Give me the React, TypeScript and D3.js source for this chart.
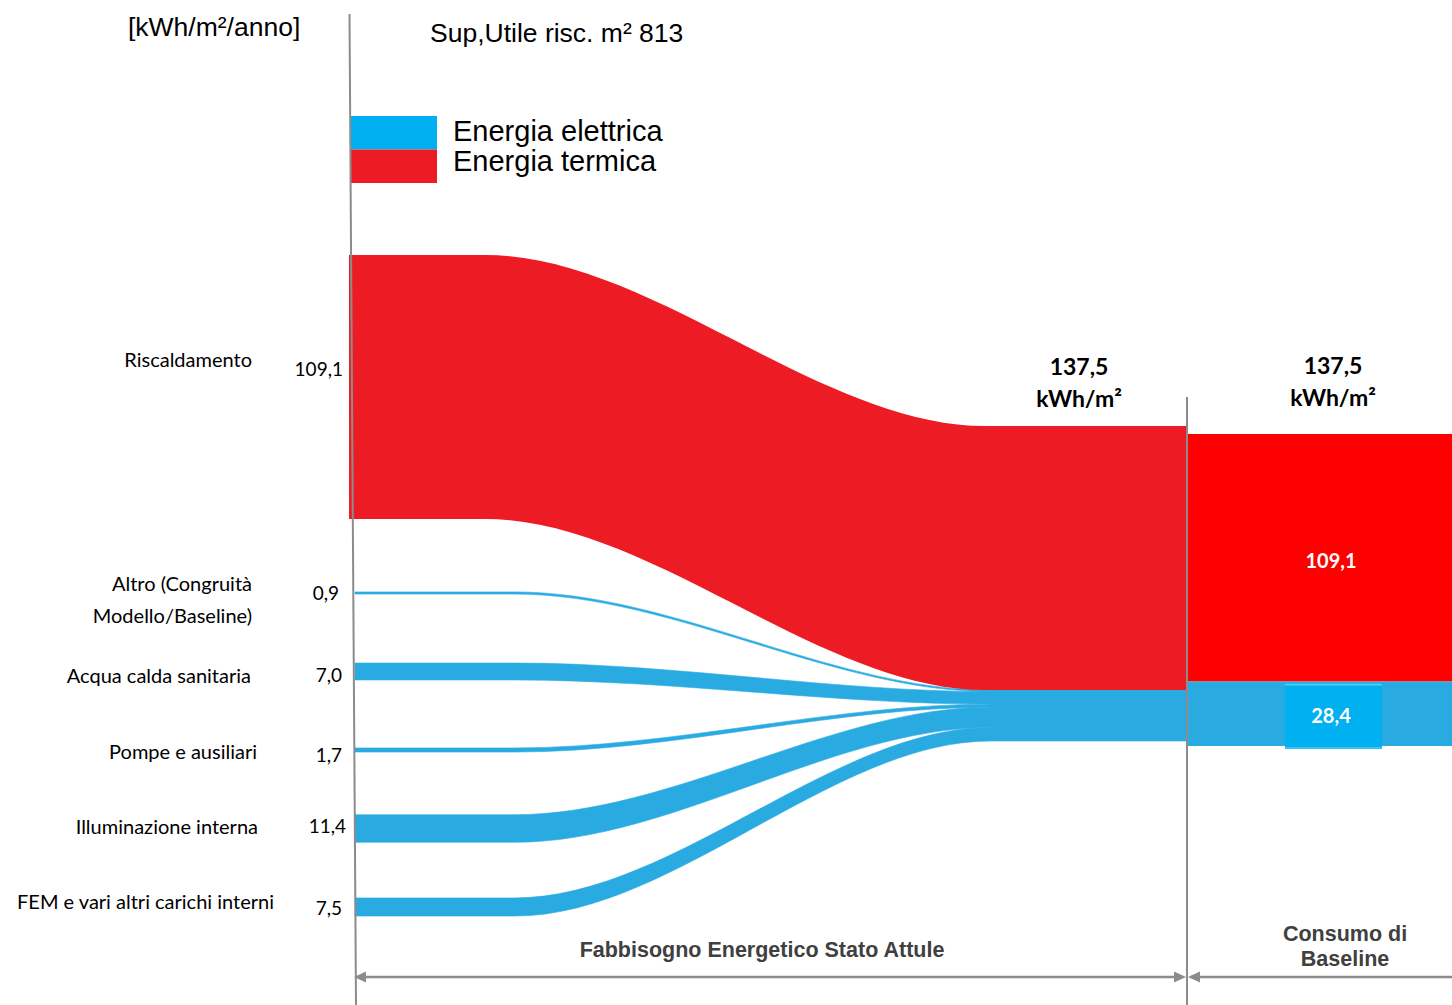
import React from "react";
import * as d3 from "d3";

const W = 1452;
const H = 1005;

// ---- data ----
const categoryLines: string[][] = [
  ["Riscaldamento"],
  ["Altro (Congruità", "Modello/Baseline)"],
  ["Acqua calda sanitaria"],
  ["Pompe e ausiliari"],
  ["Illuminazione interna"],
  ["FEM e vari altri carichi interni"],
];
const demandValues = [109.1, 0.9, 7.0, 1.7, 11.4, 7.5];
const demandCarrier = ["termica", "elettrica", "elettrica", "elettrica", "elettrica", "elettrica"];

const legendCarriers = ["elettrica", "termica"];
const legendNames = ["Energia elettrica", "Energia termica"];

const baselineCarriers = ["termica", "elettrica"];
const baselineValues = [109.1, 28.4];
const totalValue = 137.5;

const unitLabel = "[kWh/m²/anno]";
const areaLabel = "Sup,Utile risc. m² 813";
const totalUnit = "kWh/m²";
const stageLabels = [["Fabbisogno Energetico Stato Attule"], ["Consumo di", "Baseline"]];

// ---- styles ----
const FLOW_COLOR: Record<string, string> = { termica: "#ED1C24", elettrica: "#29ABE2" };
const BAR_COLOR: Record<string, string> = { termica: "#FF0000", elettrica: "#29ABE2" };
const LEGEND_COLOR: Record<string, string> = { termica: "#ED1C24", elettrica: "#00B0F0" };
const GRID = "#8C8C8C";
const SANS = "Lato, 'Open Sans', sans-serif";
const ARIAL = "'Liberation Sans', Arial, sans-serif";

const fmt = d3
  .formatLocale({ decimal: ",", thousands: ".", grouping: [3], currency: ["", "€"] })
  .format(".1f");

// ---- layout ----
const leftX = 349;
const flowX0Elec = 355;
const stageX = 1187;
const rightEdge = W;
const hubX = 990;

// source widths
const wSource = d3.scaleLinear().domain([0, 109.1]).range([0, 264]);
// merged electric band at the collector
const elecIdx = demandValues.map((_, i) => i).filter((i) => demandCarrier[i] === "elettrica");
const elecTotal = d3.sum(elecIdx, (i) => demandValues[i]);
const wHub = d3.scaleLinear().domain([0, elecTotal]).range([0, 51]);
// baseline stacked bar
const wBase = d3.scaleLinear().domain([0, totalValue]).range([0, 312]);

const rowY = d3
  .scalePoint<number>()
  .domain(elecIdx)
  .range([593, 907]);

const heatTop = 255;
const heatTargetTop = 426;
const hubTop = heatTargetTop + wSource(demandValues[0]);
const baseTop = 434;

function band(
  x0: number, xa: number, xb: number, x1: number,
  t0: number, b0: number, t1: number, b1: number, k = 0.35
) {
  const p = d3.path();
  const c1 = xa + (xb - xa) * k;
  const c2 = xb - (xb - xa) * k;
  p.moveTo(x0, t0);
  p.lineTo(xa, t0);
  p.bezierCurveTo(c1, t0, c2, t1, xb, t1);
  p.lineTo(x1, t1);
  p.lineTo(x1, b1);
  p.lineTo(xb, b1);
  p.bezierCurveTo(c2, b1, c1, b0, xa, b0);
  p.lineTo(x0, b0);
  p.closePath();
  return p.toString();
}

// label placement per row
const labelRight = [252, 252, 251, 257, 258, 274];
const labelDy = [-28, 6, 3, 1, -3, -6];
const valueRight = [343, 339, 342, 342, 346, 342];
const valueDy = [-19, -1, 3, 4, -3, 0];

export default function App() {
  // source geometry
  const sources = demandValues.map((v, i) => {
    const w = wSource(v);
    if (demandCarrier[i] === "termica") {
      return { i, top: heatTop, bottom: heatTop + w, center: heatTop + w / 2 };
    }
    const c = rowY(i)!;
    return { i, top: c - w / 2, bottom: c + w / 2, center: c };
  });

  // electric flows stacked into the collector
  let acc = 0;
  const elecFlows = elecIdx.map((i) => {
    const t1 = hubTop + wHub(acc);
    acc += demandValues[i];
    const b1 = hubTop + wHub(acc);
    const s = sources[i];
    return { i, d: band(flowX0Elec, 515, hubX, stageX, s.top, s.bottom, t1, b1, 0.33) };
  });

  const heatSrc = sources[0];
  const heatPath = band(
    leftX, 485, 985, stageX,
    heatSrc.top, heatSrc.bottom,
    heatTargetTop, heatTargetTop + wSource(demandValues[0]),
    0.33
  );

  // baseline stacked bar
  let bacc = 0;
  const baseBars = baselineValues.map((v, j) => {
    const y0 = baseTop + wBase(bacc);
    bacc += v;
    const y1 = baseTop + wBase(bacc);
    return { j, y0, y1, v };
  });
  const baseCx = 1331;

  const arrowY = 977;
  const arrowHead = (x: number, dir: number) => {
    const p = d3.path();
    p.moveTo(x, arrowY);
    p.lineTo(x - dir * 12, arrowY - 5.5);
    p.lineTo(x - dir * 12, arrowY + 5.5);
    p.closePath();
    return p.toString();
  };

  return (
    <svg width={W} height={H} style={{ display: "block", position: "absolute", left: 0, top: 0 }}>
      <rect width={W} height={H} fill="#fff" />

      {/* header */}
      <text x={128} y={36} fontFamily={ARIAL} fontSize={26.5} fill="#000">{unitLabel}</text>
      <text x={430} y={42} fontFamily={ARIAL} fontSize={26.5} fill="#000">{areaLabel}</text>

      {/* legend */}
      {legendCarriers.map((c, k) => (
        <g key={c}>
          <rect x={350} y={116 + k * 33.5} width={87} height={33.5} fill={LEGEND_COLOR[c]} />
          <text x={453} y={141 + k * 30} fontFamily={ARIAL} fontSize={29} fill="#000">
            {legendNames[k]}
          </text>
        </g>
      ))}

      {/* flows */}
      {elecFlows.map((f) => (
        <path key={f.i} d={f.d} fill={FLOW_COLOR.elettrica} stroke={FLOW_COLOR.elettrica} strokeWidth={0.6} />
      ))}
      <rect x={hubX} y={hubTop} width={stageX - hubX} height={wHub(elecTotal)} fill={FLOW_COLOR.elettrica} />
      <path d={heatPath} fill={FLOW_COLOR.termica} />

      {/* baseline bar */}
      {baseBars.map((b) => (
        <rect
          key={b.j}
          x={stageX + 1}
          y={b.y0}
          width={rightEdge - stageX - 1}
          height={b.y1 - b.y0}
          fill={BAR_COLOR[baselineCarriers[b.j]]}
        />
      ))}
      {(() => {
        const b = baseBars[1];
        return (
          <g>
            <rect x={1285} y={b.y0 + 2} width={97} height={b.y1 - b.y0 + 1} fill="#00B0F0" />
            <rect x={1285} y={b.y0 + 2} width={97} height={2} fill="#55C8F2" />
            <rect x={1285} y={b.y1 + 1} width={97} height={2} fill="#3FC0F0" />
          </g>
        );
      })()}
      {baseBars.map((b) => (
        <text
          key={"l" + b.j}
          x={baseCx}
          y={(b.y0 + b.y1) / 2 + (b.j === 1 ? 1 : 2)}
          textAnchor="middle"
          dominantBaseline="central"
          fontFamily={SANS}
          fontWeight="bold"
          fontSize={20}
          fill="#fff"
        >
          {fmt(b.v)}
        </text>
      ))}

      {/* totals */}
      {[1079, 1333].map((cx, k) => (
        <g key={cx}>
          <text x={cx} y={375 - k} textAnchor="middle" fontFamily={SANS} fontWeight="bold" fontSize={23} fill="#000">
            {fmt(totalValue)}
          </text>
          <text x={cx} y={407 - k} textAnchor="middle" fontFamily={SANS} fontWeight="bold" fontSize={23} fill="#000">
            {totalUnit}
          </text>
        </g>
      ))}

      {/* row labels */}
      {sources.map((s) => (
        <g key={"row" + s.i}>
          {categoryLines[s.i].map((line, li, arr) => (
            <text
              key={li}
              x={labelRight[s.i]}
              y={s.center + labelDy[s.i] + (li - (arr.length - 1) / 2) * 32}
              textAnchor="end"
              dominantBaseline="central"
              fontFamily={SANS}
              fontSize={20}
              fill="#000"
            >
              {line}
            </text>
          ))}
          <text
            x={valueRight[s.i]}
            y={s.center + valueDy[s.i]}
            textAnchor="end"
            dominantBaseline="central"
            fontFamily={SANS}
            fontSize={19}
            fill="#000"
          >
            {fmt(demandValues[s.i])}
          </text>
        </g>
      ))}

      {/* stage separators */}
      <line x1={349.5} y1={14} x2={356} y2={H} stroke={GRID} strokeWidth={2} />
      <line x1={stageX} y1={397} x2={stageX} y2={H} stroke={GRID} strokeWidth={2} />

      {/* stage arrows */}
      <line x1={358} y1={arrowY} x2={stageX - 4} y2={arrowY} stroke={GRID} strokeWidth={2.5} />
      <line x1={stageX + 4} y1={arrowY} x2={rightEdge} y2={arrowY} stroke={GRID} strokeWidth={2.5} />
      <path d={arrowHead(354, -1)} fill={GRID} />
      <path d={arrowHead(stageX - 1, 1)} fill={GRID} />
      <path d={arrowHead(stageX + 1, -1)} fill={GRID} />

      {/* stage labels */}
      {stageLabels.map((lines, k) => {
        const cx = k === 0 ? 762 : 1345;
        const y0 = k === 0 ? 957 : 941;
        return lines.map((line, li) => (
          <text
            key={k + "-" + li}
            x={cx}
            y={y0 + li * 25}
            textAnchor="middle"
            fontFamily={ARIAL}
            fontWeight="bold"
            fontSize={21.5}
            fill="#404040"
          >
            {line}
          </text>
        ));
      })}
    </svg>
  );
}
